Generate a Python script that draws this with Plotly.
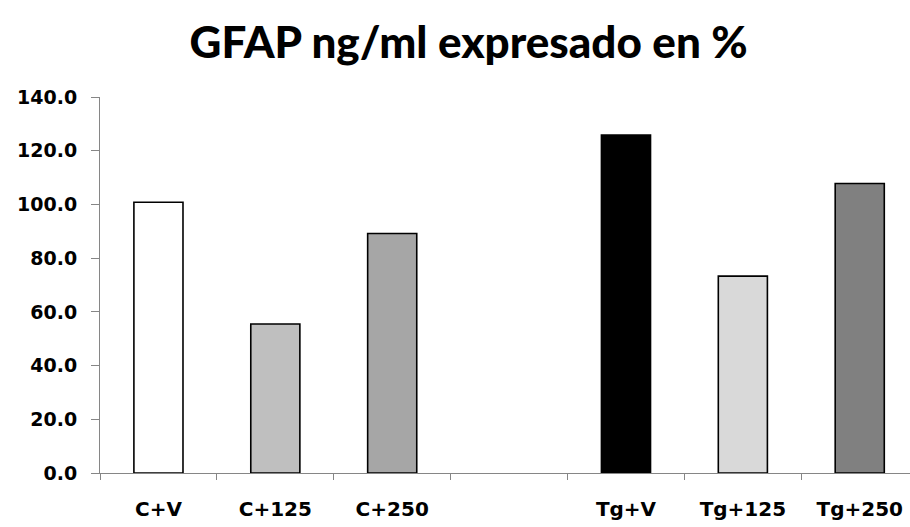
import plotly.graph_objects as go

# GFAP levels (ng/ml) expressed as % of control
categories = ["C+V", "C+125", "C+250", " ", "Tg+V", "Tg+125", "Tg+250"]
values = [100.8, 55.5, 89.2, None, 125.8, 73.3, 107.8]
fill_colors = ["#ffffff", "#bfbfbf", "#a6a6a6", "#ffffff", "#000000", "#d9d9d9", "#808080"]
y_ticks = [0, 20, 40, 60, 80, 100, 120, 140]
title_text = "GFAP ng/ml expresado en %"

axis_gray = "#868686"
y_tick_font = dict(family="DejaVu Sans", size=19, color="#000000", weight="bold")
x_tick_font = dict(family="DejaVu Sans", size=20, color="#000000", weight="bold")

fig = go.Figure(
    go.Bar(
        x=categories,
        y=values,
        width=0.42,
        marker=dict(color=fill_colors, line=dict(color="#000000", width=1.6)),
        hoverinfo="x+y",
    )
)

fig.update_layout(
    width=910,
    height=527,
    margin=dict(l=100, r=0, t=97, b=54),
    paper_bgcolor="#ffffff",
    plot_bgcolor="#ffffff",
    showlegend=False,
    title=dict(
        text=title_text,
        x=0.515,
        xref="container",
        xanchor="center",
        y=0.92,
        yref="container",
        yanchor="middle",
        font=dict(family="Lato", size=44, color="#000000", weight=900),
    ),
    xaxis=dict(
        type="category",
        categoryorder="array",
        categoryarray=categories,
        range=[-0.5, 6.43],
        showline=True,
        linecolor=axis_gray,
        linewidth=1,
        ticks="outside",
        tickson="boundaries",
        ticklen=6,
        tickcolor=axis_gray,
        showgrid=False,
        tickfont=x_tick_font,
        ticklabelstandoff=18,
    ),
    yaxis=dict(
        range=[0, 140],
        tickvals=y_ticks,
        ticktext=[f"{v:.1f}" for v in y_ticks],
        showline=True,
        linecolor=axis_gray,
        linewidth=1,
        ticks="outside",
        ticklen=8,
        tickcolor=axis_gray,
        showgrid=False,
        zeroline=False,
        tickfont=y_tick_font,
        ticklabelstandoff=10,
    ),
)

fig.write_html("out.html")
